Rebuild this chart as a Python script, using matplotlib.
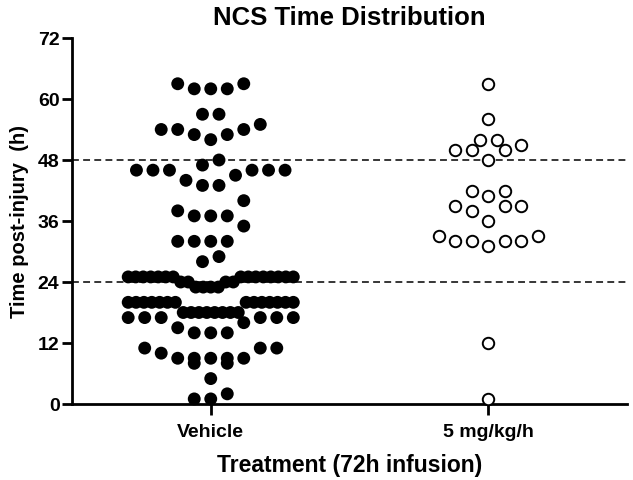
import matplotlib
matplotlib.use("Agg")
import matplotlib.pyplot as plt
import numpy as np

# ---------------- data ----------------
categories = ["Vehicle", "5 mg/kg/h"]
vehicle = ([63, 63, 62, 62, 62, 57, 57, 55, 54, 54, 54, 53, 53, 52,
            48, 47, 46, 46, 46, 46, 46, 46, 45, 44, 43, 43,
            40, 38, 37, 37, 37, 35, 32, 32, 32, 32, 29, 28]
           + [25] * 15 + [24] * 4 + [23] * 4
           + [20] * 14 + [18] * 8 + [17] * 6
           + [16, 15, 14, 14, 14, 11, 11, 11, 10, 9, 9, 9, 9, 9, 8, 8, 5, 2, 1, 1])
dose = [63, 56, 52, 52, 51, 50, 50, 50, 48, 42, 42, 41, 39, 39, 39, 38, 36,
        33, 33, 32, 32, 32, 32, 31, 12, 1]
yticks = [0, 12, 24, 36, 48, 60, 72]
ref_lines = [24, 48]

# ---------------- layout helpers (GraphPad-like row scatter) ----------------
STEP = 0.0595      # horizontal spacing between neighbouring symbols (data units)
MAX_SPAN = 0.595   # maximum centre-to-centre width of a row
ROW_TOL = 3.0      # values within this range share one row


def scatter_positions(values, center):
    vals = sorted(values)
    rows = []
    for v in vals:
        if rows and v - rows[-1][0] <= ROW_TOL + 1e-9:
            rows[-1].append(v)
        else:
            rows.append([v])
    xs, ys = [], []
    for row in rows:
        n = len(row)
        step = STEP if n == 1 else min(STEP, MAX_SPAN / (n - 1))
        if n % 2:
            slots = [0.0]
            k = 1
            while len(slots) < n:
                slots += [-k, k]
                k += 1
        else:
            slots = []
            k = 0.5
            while len(slots) < n:
                slots += [-k, k]
                k += 1
        slots = slots[:n]
        for v, s in zip(row, slots):
            xs.append(center + s * step)
            ys.append(v)
    return np.array(xs), np.array(ys)


plt.rcParams['font.family'] = ['Liberation Sans', 'DejaVu Sans']
plt.rcParams['font.weight'] = 'bold'

fig = plt.figure(figsize=(6.33, 4.81), dpi=100)
ax = fig.add_axes([72 / 633, 1 - 405 / 481, 555 / 633, 366 / 481])

for y in ref_lines:
    ax.axhline(y, color='black', lw=1.1, ls=(0, (4.5, 2.8)), zorder=1)

vx, vy = scatter_positions(vehicle, 0)
ax.scatter(vx, vy, s=86, color='black', edgecolors='none', zorder=3, clip_on=False)

dx, dy = scatter_positions(dose, 1)
ax.scatter(dx, dy, s=68, facecolors='white', edgecolors='black', linewidths=1.4,
           zorder=3, clip_on=False)

ax.set_xlim(-0.5, 1.5)
ax.set_ylim(0, 72)
ax.set_yticks(yticks)
ax.set_xticks([0, 1])
ax.set_xticklabels(categories, fontsize=14, fontweight='bold')
ax.set_yticklabels([str(t) for t in yticks], fontsize=14, fontweight='bold')

for side in ['top', 'right']:
    ax.spines[side].set_visible(False)
for side in ['left', 'bottom']:
    ax.spines[side].set_linewidth(2.0)
ax.tick_params(axis='y', length=7, width=2.0, pad=2)
ax.tick_params(axis='x', length=8, width=2.0, pad=6)

ax.set_xlabel("Treatment (72h infusion)", fontsize=16.5, fontweight='bold', labelpad=9)
ax.set_ylabel("Time post-injury  (h)", fontsize=14.5, fontweight='bold', labelpad=6)
ax.set_title("NCS Time Distribution", fontsize=18.5, fontweight='bold', pad=10)

fig.savefig("out.png", dpi=100)
